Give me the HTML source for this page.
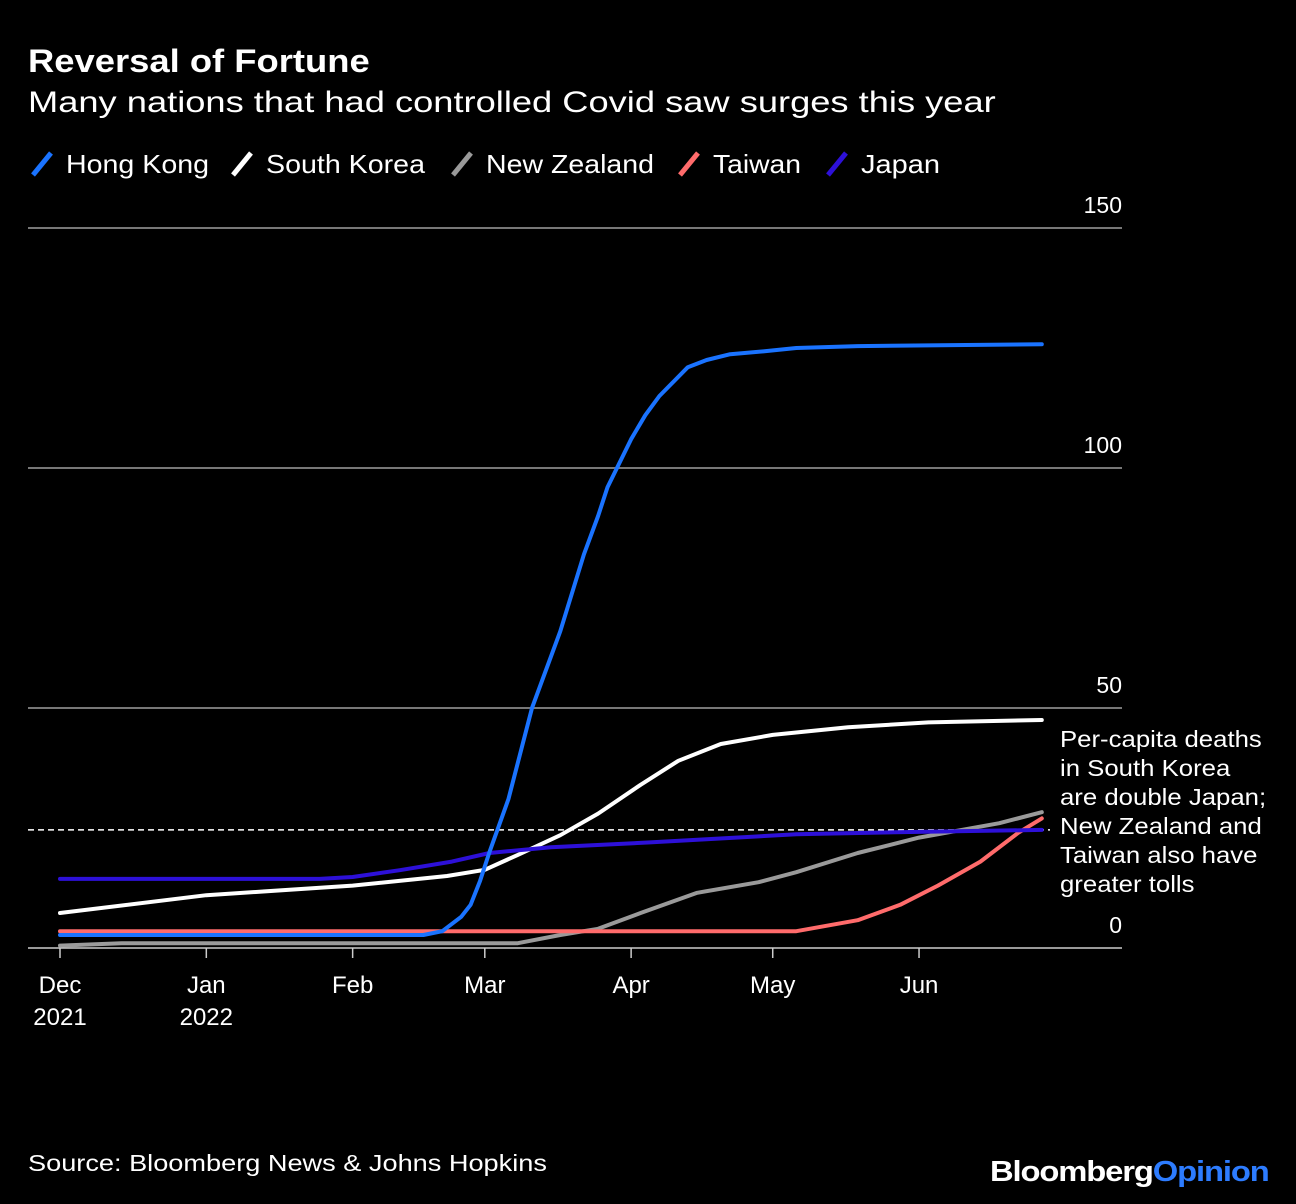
<!DOCTYPE html>
<html><head><meta charset="utf-8">
<style>
body{margin:0;background:#000;width:1296px;height:1204px;overflow:hidden;font-family:"Liberation Sans",sans-serif;color:#fff}
.t{position:absolute;white-space:nowrap;transform-origin:0 0}
</style></head>
<body>
<div class="t" style="left:28px;top:43px;font-size:32px;font-weight:bold;transform:scaleX(1.137)">Reversal of Fortune</div>
<div class="t" style="left:28px;top:86px;font-size:30px;transform:scaleX(1.209)">Many nations that had controlled Covid saw surges this year</div>
<div class="t" style="left:28px;top:1150px;font-size:23px;transform:scaleX(1.18)">Source: Bloomberg News &amp; Johns Hopkins</div>
<div class="t" style="left:990px;top:1156px;font-size:29px;font-weight:bold;letter-spacing:-1px;transform:scaleX(1.13)">Bloomberg<span style="color:#2d7cff">Opinion</span></div>
<svg id="chart" width="1296" height="1204" style="position:absolute;left:0;top:0"></svg>
<script>
const seriesNames=["Hong Kong","South Korea","New Zealand","Taiwan","Japan"];
const seriesColors=["#1a73ff","#ffffff","#9a9a9a","#ff6b6b","#2d10d8"];
const hkDays=[0,77,81,85,87,89,91,95,100,106,111,114,116,119,121,124,127,130,133,137,142,149,156,169,208];
const hkVals=[2.7,2.7,3.5,6.5,9,14,20,31,50,66,82,90,96,102,106,111,115,118,121,122.5,123.7,124.3,125,125.4,125.8];
const skDays=[0,31,62,82,90,97,106,114,123,131,140,151,167,184,208];
const skVals=[7.3,11,13,15,16.3,19.4,23.5,28,34,39,42.5,44.4,46,47,47.5];
const nzDays=[0,13,97,106,114,123,135,148,156,169,182,199,208];
const nzVals=[0.5,1,1,2.7,4,7.3,11.5,13.7,15.8,19.8,23,26,28.3];
const twDays=[0,156,169,178,186,195,203,208];
const twVals=[3.5,3.5,5.8,9,13,18,24,27];
const jpDays=[0,55,62,72,83,91,104,125,156,177,208];
const jpVals=[14.4,14.4,14.8,16.2,18,19.8,21,22,23.7,24.1,24.6];
const yTicks=[0,50,100,150];
const xLabels=[["Dec","2021"],["Jan","2022"],["Feb"],["Mar"],["Apr"],["May"],["Jun"]];
const xLabelDays=[0,31,62,90,121,151,182];
const refValue=24.6;
const allDays=[hkDays,skDays,nzDays,twDays,jpDays];
const allVals=[hkVals,skVals,nzVals,twVals,jpVals];

const NS="http://www.w3.org/2000/svg";
const svg=document.getElementById('chart');
const x=d=>60+d*4.72;
const y=v=>948-v*4.8;
function mk(tag,attrs,parent){const e=document.createElementNS(NS,tag);for(const k in attrs)e.setAttribute(k,attrs[k]);(parent||svg).appendChild(e);return e;}

yTicks.forEach(v=>{
  const l=mk('line',{x1:28,x2:1122,y1:y(v),y2:y(v),stroke:v===0?'#ccc':'#777','stroke-width':v===0?1.5:2});
  
  
  const t=mk('text',{x:1122,y:y(v)-15,'text-anchor':'end','font-size':23,fill:'#fff','font-family':'Liberation Sans'});
  t.textContent=v;
  
  
});
xLabelDays.forEach((d,i)=>{
  const tk=mk('line',{x1:x(d),x2:x(d),y1:948,y2:958,stroke:'#ccc','stroke-width':1.5});
  
  
  xLabels[i].forEach((s,j)=>{
    const t=mk('text',{x:x(d),y:993+j*32,'text-anchor':'middle','font-size':24,fill:'#fff','font-family':'Liberation Sans'});
    t.textContent=s;
    
    
  });
});
const ref=mk('line',{x1:28,x2:1050,y1:y(refValue),y2:y(refValue),stroke:'#fff','stroke-width':1.5,'stroke-dasharray':'6,4'});



[2,3,1,4,0].forEach(i=>{
  const pts=allDays[i].map((d,k)=>x(d).toFixed(1)+','+y(allVals[i][k]).toFixed(1)).join(' ');
  const p=mk('polyline',{points:pts,fill:'none',stroke:seriesColors[i],'stroke-width':4,'stroke-linejoin':'round','stroke-linecap':'round'});
  
  
});

const legX=[30,230,450,677,825];
const legTextW=[143,159,168,88,79];
seriesNames.forEach((n,i)=>{
  const lx=legX[i];
  const g=mk('g',{});
  
  
  mk('line',{x1:lx+3,y1:175,x2:lx+21,y2:153,stroke:seriesColors[i],'stroke-width':5},g);
  const t=mk('text',{x:lx+36,y:173,'font-size':26,fill:'#fff','font-family':'Liberation Sans',textLength:legTextW[i],lengthAdjust:'spacingAndGlyphs'},g);
  t.textContent=n;
});
const ann=["Per-capita deaths","in South Korea","are double Japan;","New Zealand and","Taiwan also have","greater tolls"];
ann.forEach((s,i)=>{
  const t=mk('text',{x:1060,y:747+i*29,'font-size':23,fill:'#fff','font-family':'Liberation Sans',transform:'translate(1060,0) scale(1.12,1) translate(-1060,0)'});
  t.textContent=s;
  
  
});
</script>
</body></html>
